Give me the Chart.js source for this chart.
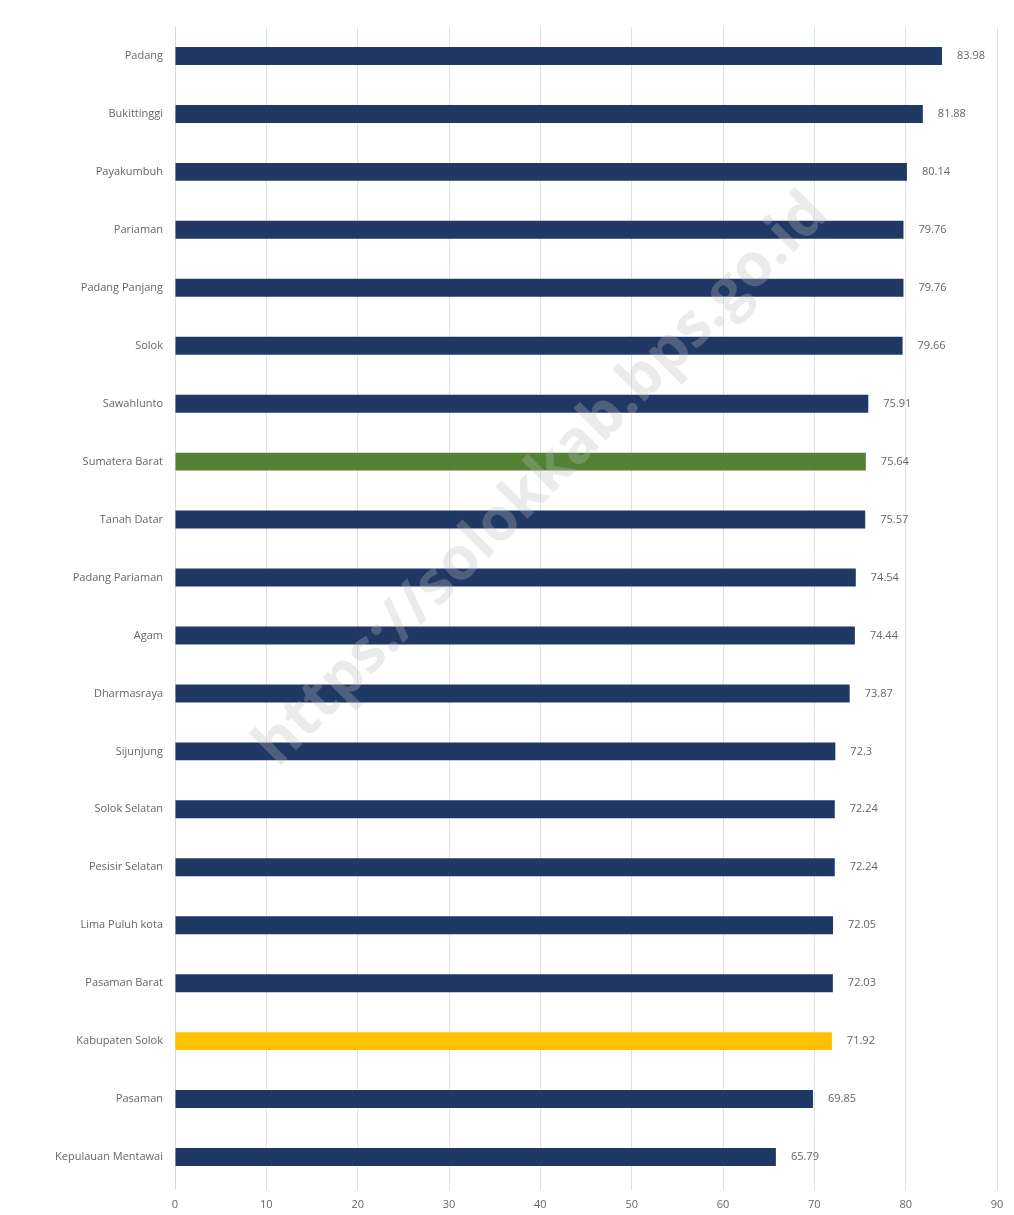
<!DOCTYPE html>
<html>
<head>
<meta charset="utf-8">
<script src="https://cdn.jsdelivr.net/npm/chart.js@4.4.1/dist/chart.umd.min.js"></script>
<style>
  html, body { margin: 0; padding: 0; background: #ffffff; }
  #wrap { width: 1014px; height: 1215px; position: relative; }
</style>
</head>
<body>
<div id="wrap"><canvas id="ipmChart"></canvas></div>
<script>
// Chart data
const regions = ['Padang', 'Bukittinggi', 'Payakumbuh', 'Pariaman', 'Padang Panjang', 'Solok',
    'Sawahlunto', 'Sumatera Barat', 'Tanah Datar', 'Padang Pariaman', 'Agam', 'Dharmasraya',
    'Sijunjung', 'Solok Selatan', 'Pesisir Selatan', 'Lima Puluh kota', 'Pasaman Barat',
    'Kabupaten Solok', 'Pasaman', 'Kepulauan Mentawai'];
const values = [83.98, 81.88, 80.14, 79.76, 79.76, 79.66, 75.91, 75.64, 75.57, 74.54, 74.44,
    73.87, 72.3, 72.24, 72.24, 72.05, 72.03, 71.92, 69.85, 65.79];
const xTicks = [0, 10, 20, 30, 40, 50, 60, 70, 80, 90];

const NAVY = '#1f3864';
const GREEN = '#548235';
const YELLOW = '#ffc000';

const barColors = regions.map(function(name) {
    if (name === 'Sumatera Barat') return GREEN;
    if (name === 'Kabupaten Solok') return YELLOW;
    return NAVY;
});

// Value labels to the right of each bar
const valueLabels = {
    id: 'valueLabels',
    afterDatasetsDraw: function(chart) {
        const ctx = chart.ctx;
        const meta = chart.getDatasetMeta(0);
        ctx.save();
        ctx.font = '11px "Open Sans"';
        ctx.fillStyle = '#666666';
        ctx.textAlign = 'left';
        ctx.textBaseline = 'middle';
        meta.data.forEach(function(bar, i) {
            ctx.fillText(String(values[i]), bar.x + 15, bar.y);
        });
        ctx.restore();
    }
};

// Faint diagonal watermark
const watermark = {
    id: 'watermark',
    afterDraw: function(chart) {
        const ctx = chart.ctx;
        ctx.save();
        ctx.translate(542, 480);
        ctx.rotate(-Math.PI / 4);
        ctx.font = 'bold 60px "Open Sans"';
        ctx.fillStyle = 'rgba(190, 190, 190, 0.3)';
        ctx.textAlign = 'center';
        ctx.textBaseline = 'middle';
        ctx.fillText('https://solokkab.bps.go.id', 0, 0);
        ctx.restore();
    }
};

const ctx = document.getElementById('ipmChart').getContext('2d');
const ipmChart = new Chart(ctx, {
    type: 'bar',
    data: {
        labels: regions,
        datasets: [{
            data: values,
            backgroundColor: barColors,
            borderWidth: 0,
            barPercentage: 0.62,
            categoryPercentage: 0.5
        }]
    },
    options: {
        indexAxis: 'y',
        responsive: true,
        maintainAspectRatio: false,
        animation: false,
        layout: {
            padding: { top: 27, right: 17, bottom: 0, left: 0 }
        },
        plugins: {
            legend: { display: false },
            tooltip: { enabled: false }
        },
        scales: {
            x: {
                min: 0,
                max: 90,
                afterBuildTicks: function(scale) {
                    scale.ticks = xTicks.map(function(v) { return { value: v }; });
                },
                afterFit: function(scale) { scale.height = 29; },
                ticks: {
                    color: '#666666',
                    font: { family: 'Open Sans', size: 11 },
                    padding: 8
                },
                grid: {
                    color: '#e0e0e0',
                    tickLength: 4
                },
                border: { display: false }
            },
            y: {
                afterFit: function(scale) { scale.width = 175; },
                ticks: {
                    color: '#666666',
                    font: { family: 'Open Sans', size: 11 },
                    padding: 4
                },
                grid: { display: false },
                border: { display: true, color: '#d9d9d9' }
            }
        }
    },
    plugins: [valueLabels, watermark]
});
</script>
</body>
</html>
